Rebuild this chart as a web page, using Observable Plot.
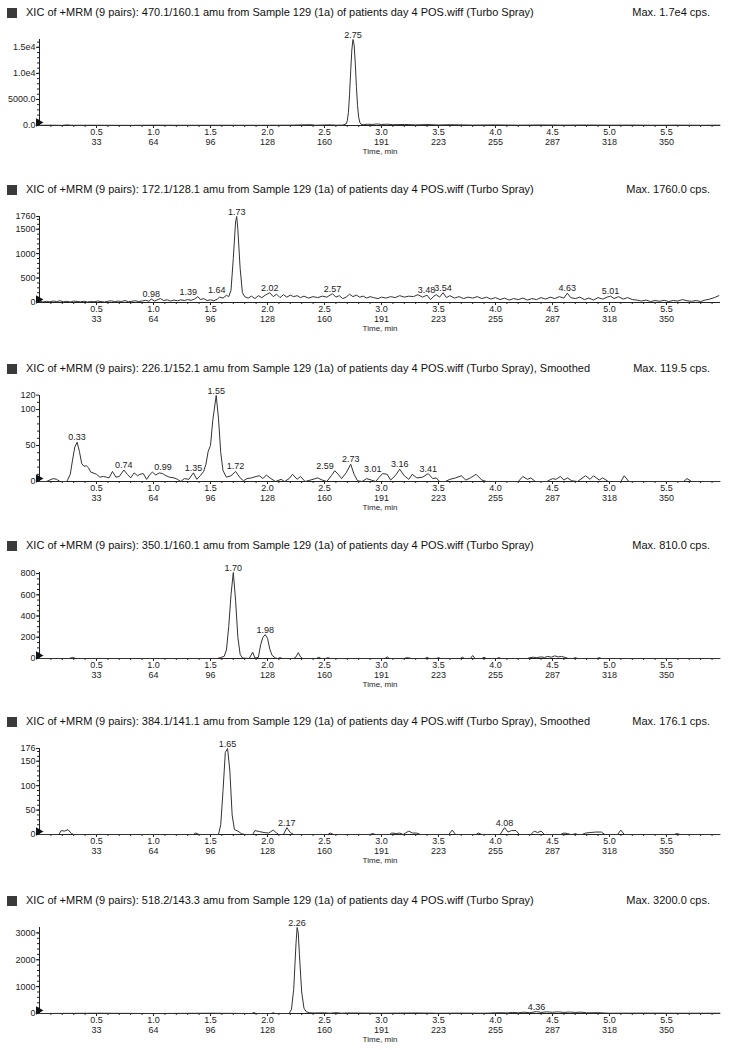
<!DOCTYPE html>
<html><head><meta charset="utf-8">
<script src="https://cdn.jsdelivr.net/npm/d3@7"></script>
<script src="https://cdn.jsdelivr.net/npm/@observablehq/plot@0.6"></script>
<style>
body{margin:0;background:#fff;font-family:"Liberation Sans",Arial,sans-serif;}
#wrap{position:relative;width:730px;height:1050px;overflow:hidden;}
.panel{position:absolute;left:0;width:730px;}
.hdr{position:relative;height:25px;font-size:11px;color:#111;}
.sq{position:absolute;left:7px;top:8px;width:10px;height:10px;background:#3a3a3a;}
.ttl{position:absolute;left:26px;top:6px;white-space:nowrap;}
.max{position:absolute;right:20px;top:6px;white-space:nowrap;}
svg{display:block;}
</style></head><body><div id="wrap"></div>
<script>
// ---- shared axis data ----
const xTicks = [0.5, 1.0, 1.5, 2.0, 2.5, 3.0, 3.5, 4.0, 4.5, 5.0, 5.5];
const scanTicks = [33, 64, 96, 128, 160, 191, 223, 255, 287, 318, 350];

// ---- titles ----
const titles = [
  "XIC of +MRM (9 pairs): 470.1/160.1 amu from Sample 129 (1a) of patients day 4 POS.wiff (Turbo Spray)",
  "XIC of +MRM (9 pairs): 172.1/128.1 amu from Sample 129 (1a) of patients day 4 POS.wiff (Turbo Spray)",
  "XIC of +MRM (9 pairs): 226.1/152.1 amu from Sample 129 (1a) of patients day 4 POS.wiff (Turbo Spray), Smoothed",
  "XIC of +MRM (9 pairs): 350.1/160.1 amu from Sample 129 (1a) of patients day 4 POS.wiff (Turbo Spray)",
  "XIC of +MRM (9 pairs): 384.1/141.1 amu from Sample 129 (1a) of patients day 4 POS.wiff (Turbo Spray), Smoothed",
  "XIC of +MRM (9 pairs): 518.2/143.3 amu from Sample 129 (1a) of patients day 4 POS.wiff (Turbo Spray)"
];
const maxTexts = ["Max. 1.7e4 cps.", "Max. 1760.0 cps.", "Max. 119.5 cps.", "Max. 810.0 cps.", "Max. 176.1 cps.", "Max. 3200.0 cps."];
const yMaxes = [16500, 1760, 119.5, 810, 176.1, 3200];
const yTickValues = [
  [0, 5000, 10000, 15000],
  [0, 500, 1000, 1500, 1760],
  [0, 50, 100, 120],
  [0, 200, 400, 600, 800],
  [0, 50, 100, 150, 176],
  [0, 1000, 2000, 3000]
];
const yTickLabels = [
  ["0.0", "5000.0", "1.0e4", "1.5e4"],
  ["0", "500", "1000", "1500", "1760"],
  ["0", "50", "100", "120"],
  ["0", "200", "400", "600", "800"],
  ["0", "50", "100", "150", "176"],
  ["0", "1000", "2000", "3000"]
];
const yMinorSteps = [1000, 100, 10, 50, 10, 200];

// ---- traces: [time (min), intensity (cps)] ----
const trace1 = [[0,40],[0.1,60],[0.2,30],[0.24,120],[0.28,40],[0.5,50],[0.8,30],[1.0,60],[1.3,40],[1.6,50],[1.9,40],[2.2,60],[2.38,150],[2.42,50],[2.55,130],[2.6,60],[2.66,80],[2.69,300],[2.70,900],[2.71,2500],[2.72,6000],[2.73,10500],[2.74,14500],[2.75,16500],[2.76,15500],[2.77,12000],[2.78,7500],[2.79,3800],[2.80,1600],[2.81,600],[2.82,250],[2.84,150],[2.88,250],[2.92,200],[2.96,300],[3.0,200],[3.05,250],[3.1,150],[3.2,200],[3.3,120],[3.4,180],[3.5,100],[3.6,150],[3.8,80],[4.0,120],[4.2,60],[4.4,100],[4.6,70],[4.8,90],[5.0,60],[5.2,80],[5.4,50],[5.6,70],[5.8,40],[5.97,60]];
const trace2 = [[0,30],[0.03,10],[0.06,25],[0.09,15],[0.12,30],[0.15,20],[0.18,35],[0.21,15],[0.24,25],[0.27,10],[0.30,30],[0.33,20],[0.36,15],[0.39,25],[0.42,10],[0.45,20],[0.48,15],[0.51,30],[0.54,20],[0.57,10],[0.60,25],[0.63,35],[0.66,15],[0.69,30],[0.72,20],[0.75,40],[0.78,15],[0.81,25],[0.84,35],[0.87,20],[0.90,30],[0.93,45],[0.96,25],[0.98,70],[1.01,30],[1.04,60],[1.06,80],[1.09,40],[1.12,55],[1.15,30],[1.18,50],[1.21,35],[1.24,55],[1.27,40],[1.30,60],[1.33,45],[1.36,70],[1.39,120],[1.41,60],[1.44,80],[1.47,40],[1.50,55],[1.53,35],[1.56,70],[1.58,110],[1.61,90],[1.64,150],[1.66,120],[1.68,250],[1.70,900],[1.72,1650],[1.73,1760],[1.74,1500],[1.76,700],[1.78,200],[1.80,120],[1.83,90],[1.86,130],[1.89,80],[1.92,140],[1.95,100],[1.98,150],[2.02,200],[2.05,120],[2.08,170],[2.11,100],[2.14,160],[2.17,110],[2.20,150],[2.23,120],[2.26,140],[2.29,100],[2.32,130],[2.36,90],[2.40,120],[2.44,100],[2.48,130],[2.52,110],[2.57,180],[2.60,110],[2.63,140],[2.66,80],[2.69,110],[2.72,170],[2.75,120],[2.78,150],[2.81,110],[2.84,130],[2.87,90],[2.90,120],[2.93,100],[2.97,80],[3.00,110],[3.04,90],[3.08,120],[3.12,100],[3.16,140],[3.20,110],[3.24,130],[3.28,120],[3.32,160],[3.36,110],[3.40,150],[3.43,60],[3.46,130],[3.48,160],[3.51,110],[3.54,200],[3.57,100],[3.60,140],[3.64,90],[3.68,120],[3.72,80],[3.76,110],[3.80,90],[3.84,120],[3.88,80],[3.92,110],[3.96,70],[4.00,100],[4.04,60],[4.08,90],[4.12,50],[4.16,80],[4.20,60],[4.24,90],[4.28,50],[4.32,80],[4.36,60],[4.40,100],[4.44,70],[4.48,110],[4.52,80],[4.56,120],[4.60,90],[4.63,190],[4.66,100],[4.70,80],[4.74,110],[4.78,60],[4.82,90],[4.86,50],[4.90,100],[4.94,70],[4.98,110],[5.01,130],[5.04,80],[5.08,120],[5.12,70],[5.16,100],[5.20,60],[5.24,50],[5.28,30],[5.32,50],[5.36,20],[5.40,40],[5.44,25],[5.48,45],[5.52,20],[5.56,40],[5.60,30],[5.64,60],[5.68,35],[5.72,25],[5.76,40],[5.80,20],[5.84,50],[5.88,70],[5.92,100],[5.96,140]];
const trace3 = [[0,0],[0.06,0],[0.09,2],[0.12,4],[0.15,3],[0.18,0],[0.24,0],[0.27,10],[0.29,30],[0.31,48],[0.33,54.5],[0.35,42],[0.37,25],[0.39,21],[0.41,22],[0.43,19],[0.45,13],[0.47,12],[0.50,10],[0.53,6],[0.56,7],[0.59,6],[0.61,5],[0.64,14],[0.67,6],[0.70,7],[0.74,16],[0.77,10],[0.80,5],[0.83,12],[0.86,8],[0.88,10],[0.91,11],[0.94,3],[0.97,10],[0.99,13],[1.02,9],[1.05,12],[1.08,11],[1.11,8],[1.14,6],[1.18,5],[1.21,3],[1.24,0],[1.27,4],[1.31,3],[1.35,12],[1.38,3],[1.41,8],[1.44,14],[1.46,24],[1.48,42],[1.50,50],[1.52,85],[1.55,119.5],[1.57,88],[1.59,40],[1.61,15],[1.64,6],[1.68,8],[1.72,14],[1.76,5],[1.79,1],[1.82,4],[1.86,5],[1.90,7],[1.93,8],[1.96,4],[1.99,9],[2.03,4],[2.07,0],[2.12,3],[2.15,0],[2.19,4],[2.22,10],[2.26,3],[2.29,7],[2.33,0],[2.40,3],[2.44,5],[2.48,2],[2.52,0],[2.56,8],[2.59,15],[2.62,10],[2.65,4],[2.69,12],[2.73,24],[2.76,10],[2.79,1],[2.83,0],[2.87,4],[2.91,2],[2.95,0],[2.98,6],[3.01,11],[3.05,10],[3.08,2],[3.12,8],[3.16,17],[3.20,8],[3.24,3],[3.27,10],[3.31,5],[3.36,6],[3.41,11],[3.45,4],[3.48,5],[3.51,0],[3.56,0],[3.60,3],[3.65,5],[3.70,8],[3.74,2],[3.78,5],[3.83,10],[3.88,2],[3.92,0],[4.20,0],[4.24,7],[4.28,3],[4.31,5],[4.35,0],[4.45,0],[4.50,4],[4.53,3],[4.57,7],[4.60,2],[4.63,5],[4.67,1],[4.72,0],[4.79,8],[4.83,3],[4.86,8],[4.91,2],[4.94,5],[4.99,0],[5.10,0],[5.13,8],[5.17,0],[5.65,0],[5.68,4],[5.72,0],[5.97,0]];
const trace4 = [[0,0],[0.26,0],[0.29,10],[0.32,0],[1.56,0],[1.59,10],[1.62,20],[1.64,80],[1.66,300],[1.68,600],[1.70,810],[1.72,550],[1.74,200],[1.76,40],[1.78,5],[1.84,0],[1.87,60],[1.89,5],[1.92,10],[1.94,130],[1.96,200],[1.98,225],[2.00,190],[2.02,90],[2.04,30],[2.07,5],[2.09,0],[2.11,8],[2.13,0],[2.23,0],[2.25,15],[2.27,55],[2.29,15],[2.31,0],[2.43,0],[2.45,12],[2.47,0],[2.51,0],[2.53,8],[2.55,0],[3.03,0],[3.05,15],[3.07,0],[3.20,0],[3.22,8],[3.24,6],[3.26,0],[3.38,0],[3.40,10],[3.42,0],[3.48,0],[3.50,8],[3.52,0],[3.69,0],[3.71,12],[3.73,0],[3.78,0],[3.80,28],[3.82,0],[3.88,0],[3.90,12],[3.92,0],[4.01,0],[4.03,8],[4.05,0],[4.28,0],[4.30,8],[4.33,12],[4.36,8],[4.40,15],[4.43,10],[4.46,20],[4.49,12],[4.52,25],[4.55,15],[4.58,20],[4.61,10],[4.64,0],[4.68,0],[4.70,8],[4.72,0],[4.89,0],[4.91,8],[4.93,0],[5.97,0]];
const trace5 = [[0,0],[0.17,0],[0.19,8],[0.22,7],[0.25,10],[0.28,2],[0.30,0],[1.35,0],[1.37,3],[1.40,0],[1.57,0],[1.59,20],[1.61,90],[1.63,168],[1.65,176.1],[1.67,130],[1.69,40],[1.71,10],[1.74,7],[1.77,2],[1.80,0],[1.87,0],[1.89,8],[1.93,6],[1.97,4],[2.01,3],[2.05,9],[2.08,3],[2.10,0],[2.14,0],[2.17,14],[2.20,4],[2.23,0],[2.53,0],[2.55,3],[2.58,0],[2.90,0],[2.92,2],[2.95,0],[3.07,0],[3.09,3],[3.13,2],[3.16,3],[3.19,0],[3.21,3],[3.24,7],[3.27,3],[3.31,3],[3.34,0],[3.59,0],[3.62,9],[3.65,0],[3.83,0],[3.85,3],[3.88,0],[4.04,0],[4.08,14],[4.11,5],[4.14,8],[4.18,8],[4.21,0],[4.31,0],[4.34,7],[4.37,4],[4.40,7],[4.43,0],[4.57,0],[4.60,3],[4.63,2],[4.66,0],[4.68,0],[4.70,2],[4.72,0],[4.76,0],[4.79,3],[4.83,4],[4.88,5],[4.93,5],[4.96,0],[5.07,0],[5.10,9],[5.13,0],[5.57,0],[5.59,2],[5.62,0],[5.97,0]];
const trace6 = [[0,0],[0.5,10],[1.0,0],[1.5,10],[1.86,0],[1.88,35],[1.90,0],[2.03,0],[2.05,25],[2.07,0],[2.19,0],[2.21,150],[2.23,900],[2.25,2600],[2.26,3200],[2.27,3000],[2.28,2200],[2.30,800],[2.32,200],[2.34,60],[2.37,30],[2.40,20],[2.50,25],[2.55,10],[2.60,30],[2.65,10],[2.70,20],[3.0,10],[3.3,20],[3.5,10],[3.7,15],[3.9,10],[4.05,30],[4.1,20],[4.15,40],[4.2,25],[4.25,50],[4.3,30],[4.36,70],[4.4,40],[4.45,60],[4.5,45],[4.55,60],[4.6,40],[4.65,55],[4.7,40],[4.75,50],[4.8,25],[4.9,30],[5.0,10],[5.3,15],[5.6,10],[5.97,10]];
const traces = [trace1, trace2, trace3, trace4, trace5, trace6];

// ---- peak labels: [time, intensity, text, side] (side: c centred, l left of peak, r right of peak) ----
const labels1 = [[2.75,16500,"2.75","c"]];
const labels2 = [[0.98,70,"0.98","c"],[1.39,120,"1.39","l"],[1.64,150,"1.64","l"],[1.73,1760,"1.73","c"],[2.02,200,"2.02","c"],[2.57,180,"2.57","c"],[3.48,160,"3.48","l"],[3.54,200,"3.54","c"],[4.63,190,"4.63","c"],[5.01,130,"5.01","c"]];
const labels3 = [[0.33,54.5,"0.33","c"],[0.74,16,"0.74","c"],[0.99,13,"0.99","r"],[1.35,12,"1.35","c"],[1.55,119.5,"1.55","c"],[1.72,14,"1.72","c"],[2.59,15,"2.59","l"],[2.73,24,"2.73","c"],[3.01,11,"3.01","l"],[3.16,17,"3.16","c"],[3.41,11,"3.41","c"]];
const labels4 = [[1.70,810,"1.70","c"],[1.98,225,"1.98","c"]];
const labels5 = [[1.65,176.1,"1.65","c"],[2.17,14,"2.17","c"],[4.08,14,"4.08","c"]];
const labels6 = [[2.26,3200,"2.26","c"],[4.36,70,"4.36","c"]];
const labelSets = [labels1, labels2, labels3, labels4, labels5, labels6];

// ---- layout ----
const panelTops = [0, 177, 356, 533, 709, 888];
const FONT = '"Liberation Sans", Arial, sans-serif';
const scanOf = new Map(xTicks.map((d, i) => [d, scanTicks[i]]));
const minorX = d3.range(1, 60).map(i => i / 10);

const wrap = document.getElementById("wrap");
traces.forEach((tr, i) => {
  const panel = document.createElement("div");
  panel.className = "panel";
  panel.style.top = panelTops[i] + "px";
  const hdr = document.createElement("div");
  hdr.className = "hdr";
  hdr.innerHTML = `<div class="sq"></div><div class="ttl"></div><div class="max"></div>`;
  hdr.querySelector(".ttl").textContent = titles[i];
  hdr.querySelector(".max").textContent = maxTexts[i];
  panel.appendChild(hdr);

  const data = tr.map(([t, v]) => ({t, v}));
  const lab = labelSets[i].map(([t, v, text, side]) => ({t, v, text, side}));
  const yT = yTickValues[i], yL = yTickLabels[i];
  const minorY = d3.range(0, yMaxes[i], yMinorSteps[i]);
  const textOpts = {x: "t", y: "v", text: "text", lineAnchor: "bottom", dy: -2, fontSize: 9, fill: "#222"};

  const chart = Plot.plot({
    width: 730, height: 134,
    marginTop: 14, marginBottom: 34, marginLeft: 39, marginRight: 10,
    style: {fontFamily: FONT, fontSize: "9px", color: "#222", background: "#fff"},
    x: {domain: [0, 5.974]},
    y: {domain: [0, yMaxes[i]]},
    marks: [
      Plot.axisY({ticks: minorY, tickSize: 2, tickFormat: () => "", label: null}),
      Plot.axisY({ticks: yT, tickSize: 3, tickPadding: 1, tickFormat: d => yL[yT.indexOf(d)], label: null}),
      Plot.axisX({ticks: minorX, tickSize: 2, tickFormat: () => "", label: null}),
      Plot.axisX({ticks: xTicks, tickSize: 3, tickPadding: 0, lineHeight: 1.05,
        tickFormat: d => `${d.toFixed(1)}\n${scanOf.get(d)}`, label: null}),
      Plot.ruleY([0], {stroke: "#222"}),
      Plot.ruleX([0], {stroke: "#222"}),
      Plot.line(data, {x: "t", y: "v", stroke: "#333", strokeWidth: 1}),
      Plot.text(lab.filter(d => d.side === "c"), {...textOpts, textAnchor: "middle"}),
      Plot.text(lab.filter(d => d.side === "l"), {...textOpts, textAnchor: "end", dx: -1}),
      Plot.text(lab.filter(d => d.side === "r"), {...textOpts, textAnchor: "start", dx: 2}),
      Plot.dot([{t: 0, v: 0}], {x: "t", y: "v", symbol: "triangle", rotate: 90, r: 3.2, fill: "#111", stroke: null, dy: -3, dx: -1}),
      Plot.text(["Time, min"], {text: d => d, frameAnchor: "bottom", dy: 28, fontSize: 8, fill: "#222"})
    ]
  });
  panel.appendChild(chart);
  wrap.appendChild(panel);
});
</script>
</body></html>
